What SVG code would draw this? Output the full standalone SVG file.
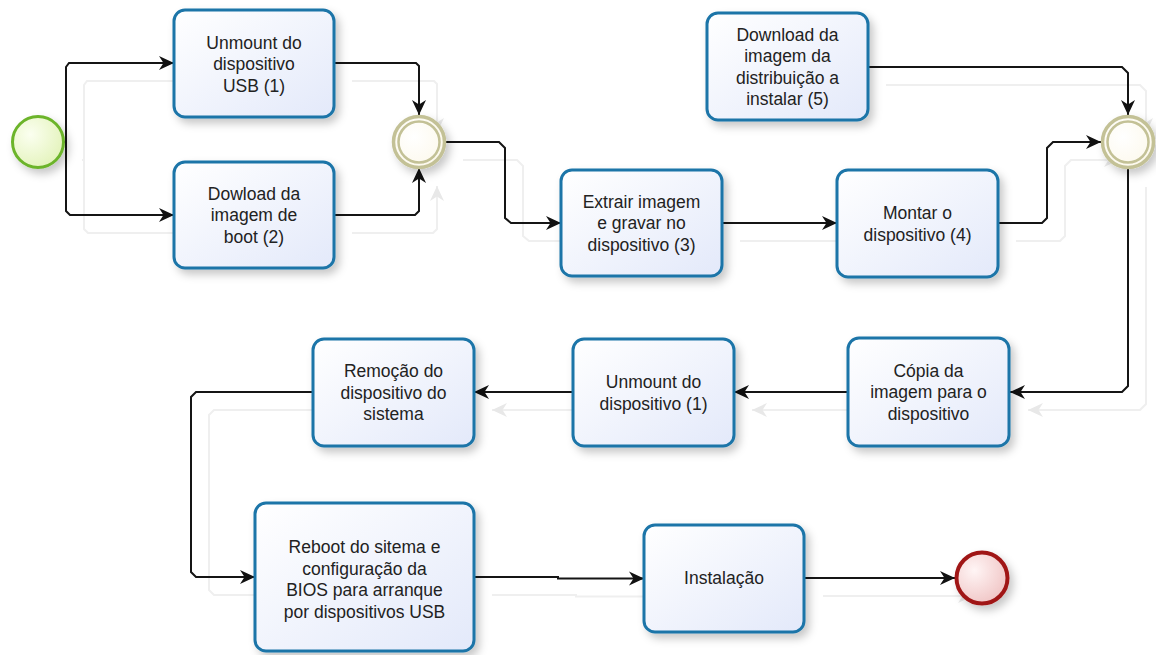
<svg xmlns="http://www.w3.org/2000/svg" width="1156" height="655" viewBox="0 0 1156 655">
<style>
.task{fill:url(#gTask);stroke:#1b74a8;stroke-width:3;filter:url(#sh)}
.lbl{font-family:"Liberation Sans",Arial,sans-serif;font-size:17.5px;fill:#222;text-anchor:middle}
.conn{fill:none;stroke:#151515;stroke-width:2;marker-end:url(#arr)}
.ghost{fill:none;stroke:#efefef;stroke-width:2;marker-end:url(#garr)}
</style>
<defs>
<linearGradient id="gTask" x1="0" y1="0" x2="1" y2="1"><stop offset="0" stop-color="#ffffff"/><stop offset="1" stop-color="#e3e9fa"/></linearGradient>
<radialGradient id="gStart" cx="0.35" cy="0.35" r="0.75"><stop offset="0" stop-color="#fbfff0"/><stop offset="1" stop-color="#e2f2b8"/></radialGradient>
<radialGradient id="gGw" cx="0.4" cy="0.4" r="0.7"><stop offset="0" stop-color="#ffffff"/><stop offset="1" stop-color="#fcf8ea"/></radialGradient>
<radialGradient id="gEnd" cx="0.35" cy="0.35" r="0.75"><stop offset="0" stop-color="#fff5f5"/><stop offset="1" stop-color="#efc2c2"/></radialGradient>
<filter id="sh" x="-20%" y="-20%" width="150%" height="150%"><feDropShadow dx="4" dy="5" stdDeviation="4" flood-color="#000" flood-opacity="0.22"/></filter>
<marker id="arr" markerWidth="17" markerHeight="16" refX="15" refY="8" orient="auto" markerUnits="userSpaceOnUse"><path d="M0,1 L15,8 L0,15 L4.5,8 z" fill="#111"/></marker>
<marker id="garr" markerWidth="17" markerHeight="16" refX="15" refY="8" orient="auto" markerUnits="userSpaceOnUse"><path d="M0,1 L15,8 L0,15 L4.5,8 z" fill="#e8e8e8"/></marker>
</defs>
<rect width="1156" height="655" fill="#ffffff"/>
<g id="connector-shadows" transform="translate(18,18)">
<path class="ghost" d="M64,142 H66 V67 L69,63 H174"/>
<path class="ghost" d="M64,142 H66 V211 L70,215 H174"/>
<path class="ghost" d="M334,63 H416 L419,66 V115"/>
<path class="ghost" d="M334,215 H415 L419,211 V168"/>
<path class="ghost" d="M445,142 H499 L505,148 V218 L511,223 H561"/>
<path class="ghost" d="M722,223 H837"/>
<path class="ghost" d="M868,67 H1122 L1128,73 V115"/>
<path class="ghost" d="M998,223 H1042 L1047,218 V148 L1053,142 H1101"/>
<path class="ghost" d="M1128,169 V386 L1122,392 H1010"/>
<path class="ghost" d="M848,392 H734"/>
<path class="ghost" d="M573,392 H474"/>
<path class="ghost" d="M313,392 H196 L191,397 V572 L196,577 H255"/>
<path class="ghost" d="M474,577 H558 V578.5 H644"/>
<path class="ghost" d="M805,578 H955"/>
</g>
<g id="connectors">
<path class="conn" d="M64,142 H66 V67 L69,63 H174"/>
<path class="conn" d="M64,142 H66 V211 L70,215 H174"/>
<path class="conn" d="M334,63 H416 L419,66 V115"/>
<path class="conn" d="M334,215 H415 L419,211 V168"/>
<path class="conn" d="M445,142 H499 L505,148 V218 L511,223 H561"/>
<path class="conn" d="M722,223 H837"/>
<path class="conn" d="M868,67 H1122 L1128,73 V115"/>
<path class="conn" d="M998,223 H1042 L1047,218 V148 L1053,142 H1101"/>
<path class="conn" d="M1128,169 V386 L1122,392 H1010"/>
<path class="conn" d="M848,392 H734"/>
<path class="conn" d="M573,392 H474"/>
<path class="conn" d="M313,392 H196 L191,397 V572 L196,577 H255"/>
<path class="conn" d="M474,577 H558 V578.5 H644"/>
<path class="conn" d="M805,578 H955"/>
</g>
<g id="start">
<circle cx="38" cy="142" r="25.5" fill="url(#gStart)" stroke="#6cb42c" stroke-width="3" filter="url(#sh)"/>
</g>
<g id="t1">
<rect class="task" x="174" y="10" width="160" height="107" rx="11"/>
<text class="lbl"><tspan x="254" y="48.5">Unmount do</tspan><tspan x="254" y="70">dispositivo</tspan><tspan x="254" y="91.5">USB (1)</tspan></text>
</g>
<g id="t2">
<rect class="task" x="174" y="162" width="160" height="106" rx="11"/>
<text class="lbl"><tspan x="254" y="199.5">Dowload da</tspan><tspan x="254" y="221">imagem de</tspan><tspan x="254" y="242.5">boot (2)</tspan></text>
</g>
<g id="gw1">
<circle cx="419" cy="142" r="25.5" fill="url(#gGw)" stroke="#c3c196" stroke-width="3.5" filter="url(#sh)"/>
<circle cx="419" cy="142" r="20.5" fill="none" stroke="#c3c196" stroke-width="2.5"/>
</g>
<g id="t3">
<rect class="task" x="561" y="170" width="161" height="106" rx="11"/>
<text class="lbl"><tspan x="641.5" y="207.5">Extrair imagem</tspan><tspan x="641.5" y="229">e gravar no</tspan><tspan x="641.5" y="250.5">dispositivo (3)</tspan></text>
</g>
<g id="t4">
<rect class="task" x="837" y="170" width="161" height="107" rx="11"/>
<text class="lbl"><tspan x="917.5" y="219">Montar o</tspan><tspan x="917.5" y="240.5">dispositivo (4)</tspan></text>
</g>
<g id="t5">
<rect class="task" x="707" y="13" width="161" height="107" rx="11"/>
<text class="lbl"><tspan x="787.5" y="40.5">Download da</tspan><tspan x="787.5" y="62">imagem da</tspan><tspan x="787.5" y="83.5">distribuição a</tspan><tspan x="787.5" y="105">instalar (5)</tspan></text>
</g>
<g id="gw2">
<circle cx="1128" cy="142" r="25.5" fill="url(#gGw)" stroke="#c3c196" stroke-width="3.5" filter="url(#sh)"/>
<circle cx="1128" cy="142" r="20.5" fill="none" stroke="#c3c196" stroke-width="2.5"/>
</g>
<g id="t6">
<rect class="task" x="848" y="338" width="161" height="108" rx="11"/>
<text class="lbl"><tspan x="928.5" y="376.5">Cópia da</tspan><tspan x="928.5" y="398">imagem para o</tspan><tspan x="928.5" y="419.5">dispositivo</tspan></text>
</g>
<g id="t7">
<rect class="task" x="573" y="339" width="161" height="107" rx="11"/>
<text class="lbl"><tspan x="653.5" y="388">Unmount do</tspan><tspan x="653.5" y="409.5">dispositivo (1)</tspan></text>
</g>
<g id="t8">
<rect class="task" x="313" y="339" width="161" height="107" rx="11"/>
<text class="lbl"><tspan x="393.5" y="377">Remoção do</tspan><tspan x="393.5" y="398.5">dispositivo do</tspan><tspan x="393.5" y="420">sistema</tspan></text>
</g>
<g id="t9">
<rect class="task" x="255" y="503" width="219" height="148" rx="11"/>
<text class="lbl"><tspan x="364.5" y="553">Reboot do sitema e</tspan><tspan x="364.5" y="574.5">configuração da</tspan><tspan x="364.5" y="596">BIOS para arranque</tspan><tspan x="364.5" y="617.5">por dispositivos USB</tspan></text>
</g>
<g id="t10">
<rect class="task" x="644" y="525" width="160" height="107" rx="11"/>
<text class="lbl"><tspan x="724" y="584">Instalação</tspan></text>
</g>
<g id="end">
<circle cx="982" cy="578" r="25.5" fill="url(#gEnd)" stroke="#a01818" stroke-width="4" filter="url(#sh)"/>
</g>
</svg>
